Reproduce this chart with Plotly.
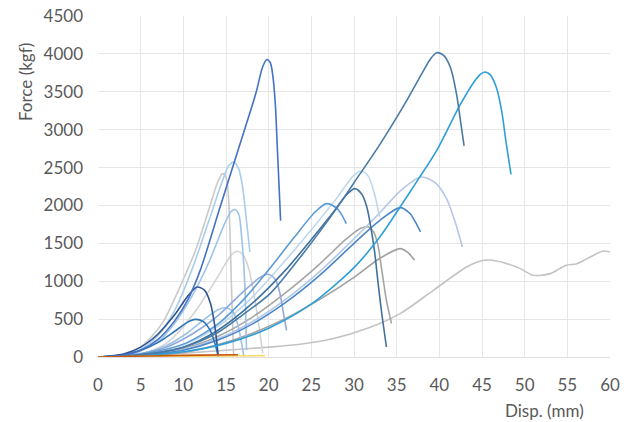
import plotly.graph_objects as go

# ---- data (displacement mm, force kgf) ----
s1_x = [0, 3, 5, 7, 9, 10.5, 12, 14.3, 16.4, 18.5, 19.3, 19.8, 20.2, 20.5, 20.8, 21.0, 21.2, 21.4]
s1_y = [0, 25, 90, 230, 480, 750, 1150, 1975, 2726, 3480, 3830, 3926, 3880, 3700, 3300, 2800, 2300, 1800]

s2_x = [0, 5, 10, 14, 17, 20.2, 24, 27.8, 30, 33, 36, 38, 39, 39.7, 40.5, 41.3, 42, 42.5, 42.9]
s2_y = [0, 30, 130, 320, 560, 840, 1360, 1935, 2300, 2800, 3350, 3750, 3940, 4015, 3980, 3820, 3480, 3100, 2785]

s3_x = [0, 5, 10, 15, 20, 25, 30, 33, 35.4, 37.5, 39.7, 42.4, 44, 44.8, 45.35, 46, 46.7, 47.3, 47.8, 48.4]
s3_y = [0, 20, 70, 180, 380, 700, 1180, 1580, 1980, 2340, 2728, 3320, 3620, 3730, 3761, 3720, 3550, 3250, 2850, 2411]

b1_x = [0, 4, 8, 11, 14, 17, 19, 19.96, 20.8, 21.3, 21.7, 22.1]
b1_y = [0, 30, 130, 300, 540, 860, 1050, 1091, 1020, 850, 600, 352]

b2_x = [0, 5, 10, 14, 17, 20, 23, 25.5, 26.8, 28, 28.6, 29.1]
b2_y = [0, 40, 170, 430, 750, 1150, 1580, 1920, 2024, 1960, 1870, 1760]

b3_x = [0, 5, 10, 14, 18, 22, 25, 28, 30, 30.9, 31.7, 32.4, 33.0]
b3_y = [0, 40, 160, 400, 780, 1280, 1680, 2100, 2400, 2455, 2380, 2150, 1848]

b4_x = [0, 5, 10, 14, 18, 22, 25, 27.5, 29.2, 30.1, 30.9, 31.5, 31.9, 32.4, 32.8, 33.2, 33.8]
b4_y = [0, 30, 130, 350, 700, 1150, 1550, 1900, 2150, 2222, 2150, 1980, 1760, 1400, 1000, 620, 132]

b5_x = [0, 5, 10, 14, 18, 22, 26, 29, 30.8, 31.7, 32.3, 32.8, 33.2, 33.8, 34.4]
b5_y = [0, 30, 110, 270, 520, 850, 1230, 1550, 1700, 1716, 1650, 1480, 1188, 748, 440]

b6_x = [0, 5, 10, 14, 18, 22, 26, 30, 33, 35.4, 36.5, 37.2, 37.8]
b6_y = [0, 25, 90, 220, 430, 720, 1080, 1500, 1800, 1971, 1900, 1780, 1650]

b7_x = [0, 5, 10, 14, 18, 22, 26, 30, 33, 35.5, 37.9, 39.5, 40.8, 41.8, 42.7]
b7_y = [0, 25, 100, 240, 460, 760, 1130, 1560, 1900, 2200, 2375, 2300, 2100, 1800, 1452]

b8_x = [0, 5, 10, 14, 18, 22, 26, 30, 33, 35.4, 36.3, 37.1]
b8_y = [0, 15, 60, 160, 310, 510, 760, 1050, 1300, 1430, 1380, 1276]

g_x = [0, 5, 10, 15, 20, 23.7, 27.6, 31.5, 35.4, 39.3, 43.2, 45.2, 46.2, 47.9, 49.5, 51.0, 53.0, 54.1, 54.9, 56.1, 57.7, 59.2, 60]
g_y = [0, 20, 50, 90, 130, 168, 243, 375, 573, 880, 1188, 1276, 1276, 1232, 1166, 1078, 1100, 1166, 1210, 1232, 1320, 1399, 1386]

a1_x = [0, 3, 5, 7.5, 9.5, 11.4, 13, 14, 14.6, 15.0, 15.3, 15.5, 15.7, 15.9]
a1_y = [0, 30, 130, 440, 900, 1400, 1950, 2300, 2420, 2370, 2100, 1500, 700, 0]

a2_x = [0, 3, 5, 7, 9, 11, 13, 14.5, 15.3, 15.9, 16.5, 17, 17.4, 17.8]
a2_y = [0, 25, 100, 280, 620, 1150, 1800, 2300, 2520, 2573, 2480, 2200, 1800, 1386]

a4_x = [0, 4, 7, 9, 11, 13, 14.8, 15.6, 16.05, 16.5, 16.8, 17.2, 17.4]
a4_y = [0, 40, 200, 450, 800, 1250, 1750, 1920, 1946, 1880, 1628, 970, 90]

a5_x = [0, 5, 8, 10, 12, 14, 15.5, 16.25, 17, 17.7, 18.4, 19.0, 19.3]
a5_y = [0, 40, 180, 400, 700, 1050, 1330, 1395, 1350, 1150, 748, 300, 50]

a6_x = [0, 3, 5, 7, 9, 10.5, 11.6, 12.5, 13.2, 13.7, 14.1]
a6_y = [0, 40, 130, 300, 560, 800, 924, 880, 700, 400, 0]

a7_x = [0, 3, 5, 7, 9, 10.5, 11.4, 12.3, 13.1, 13.7, 14.1]
a7_y = [0, 30, 90, 190, 340, 460, 497, 470, 360, 180, 0]

a8_x = [0, 5, 8, 10.5, 12.5, 14, 14.9, 15.8, 16.4, 16.8, 17.1]
a8_y = [0, 40, 150, 320, 500, 620, 650, 600, 420, 200, 0]

o1_x = [0, 4, 8, 12, 16.4]
o1_y = [0, 10, 18, 25, 30]
o2_x = [0, 5, 10, 15, 19.6]
o2_y = [0, 6, 10, 14, 18]

series = [
    (g_x, g_y, "#C3C3C3"),
    (a5_x, a5_y, "#D3D3D3"),
    (a1_x, a1_y, "#CACACA"),
    (b8_x, b8_y, "#A0A0A0"),
    (b5_x, b5_y, "#A5A5A5"),
    (b7_x, b7_y, "#B4C7E7"),
    (b3_x, b3_y, "#BDD7EE"),
    (a8_x, a8_y, "#9DC3E6"),
    (a4_x, a4_y, "#9DC3E6"),
    (a2_x, a2_y, "#A9CDEA"),
    (b1_x, b1_y, "#8FAADC"),
    (b2_x, b2_y, "#5B9BD5"),
    (b6_x, b6_y, "#4A86C8"),
    (b4_x, b4_y, "#41719C"),
    (a7_x, a7_y, "#2E75B6"),
    (a6_x, a6_y, "#2F5597"),
    (s3_x, s3_y, "#2E9FD8"),
    (s2_x, s2_y, "#4A7BA6"),
    (s1_x, s1_y, "#4472C4"),
    (o2_x, o2_y, "#FFD966"),
    (o1_x, o1_y, "#C55A11"),
]

fig = go.Figure()
for xs, ys, col in series:
    fig.add_trace(go.Scatter(x=xs, y=ys, mode="lines",
                             line=dict(color=col, width=1.6, shape="spline", smoothing=0.8),
                             showlegend=False, hoverinfo="skip"))

W, H = 631, 422
pl, pr, pt, pb = 98, 21, 16, 65
pw, ph = W - pl - pr, H - pt - pb

def px2paper(px, py):
    return (px - pl) / pw, (H - pb - py) / ph

ax0, ay0 = px2paper(25, 82)
ax1, ay1 = px2paper(544, 410)

font_family = "Lato, 'Open Sans', sans-serif"
fig.update_layout(
    width=W, height=H,
    margin=dict(l=pl, r=pr, t=pt, b=pb, autoexpand=False),
    paper_bgcolor="white", plot_bgcolor="white",
    font=dict(family=font_family, size=17, color="#595959"),
    xaxis=dict(range=[0, 60], tick0=0, dtick=5, showgrid=True, gridcolor="#E6E6E6",
               gridwidth=1, zeroline=False, showline=True, linecolor="#E0E0E0",
               ticks="", ticklabelstandoff=13, automargin=False),
    yaxis=dict(range=[0, 4500], tick0=0, dtick=500, showgrid=True, gridcolor="#E6E6E6",
               gridwidth=1, zeroline=False, showline=False, ticks="",
               ticklabelstandoff=14, automargin=False),
    annotations=[
        dict(text="Force (kgf)", x=ax0, y=ay0, xref="paper", yref="paper",
             xanchor="center", yanchor="middle",
             showarrow=False, textangle=-90, font=dict(size=17, color="#595959")),
        dict(text="Disp. (mm)", x=ax1, y=ay1, xref="paper", yref="paper",
             xanchor="center", yanchor="middle",
             showarrow=False, font=dict(size=17, color="#595959")),
    ],
)

fig.write_html("out.html")
